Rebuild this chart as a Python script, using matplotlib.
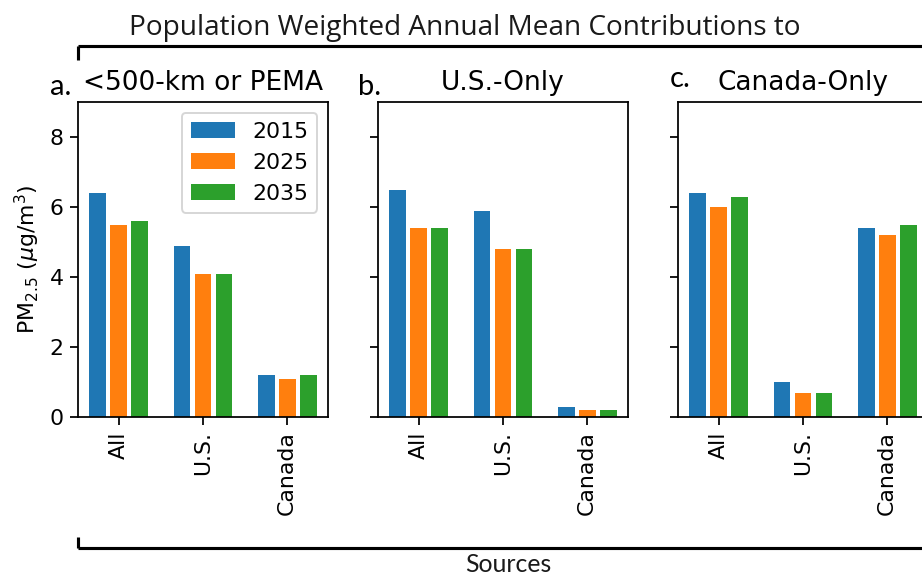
import numpy as np
import matplotlib
matplotlib.use("Agg")
import matplotlib.pyplot as plt
from matplotlib.lines import Line2D

# Data
sources = ["All", "U.S.", "Canada"]
years = ["2015", "2025", "2035"]
panel_titles = ["<500-km or PEMA", "U.S.-Only", "Canada-Only"]
panel_letters = ["a.", "b.", "c."]

pema_2015 = [6.4, 4.9, 1.2]
pema_2025 = [5.5, 4.1, 1.1]
pema_2035 = [5.6, 4.1, 1.2]

us_only_2015 = [6.5, 5.9, 0.3]
us_only_2025 = [5.4, 4.8, 0.2]
us_only_2035 = [5.4, 4.8, 0.2]

canada_only_2015 = [6.4, 1.0, 5.4]
canada_only_2025 = [6.0, 0.7, 5.2]
canada_only_2035 = [6.3, 0.7, 5.5]

panels = [
    [pema_2015, pema_2025, pema_2035],
    [us_only_2015, us_only_2025, us_only_2035],
    [canada_only_2015, canada_only_2025, canada_only_2035],
]
colors = ["#1f77b4", "#ff7f0e", "#2ca02c"]

S = 1.13  # overall scale of text and strokes
plt.rcParams.update({
    "font.family": ["DejaVu Sans"],
    "font.size": 10 * S,
    "axes.titlesize": 12 * S,
    "axes.linewidth": 0.8 * S,
    "xtick.major.size": 3.5 * S,
    "ytick.major.size": 3.5 * S,
    "xtick.major.width": 0.8 * S,
    "ytick.major.width": 0.8 * S,
})

W, H = 922, 575
DPI = 140
fig = plt.figure(figsize=(W / DPI, H / DPI), dpi=DPI)


def fx(x):
    return x / W


def fy(y):
    return 1 - y / H


ax_left = [78, 378, 678]
ax_w, ax_top, ax_bot = 250, 102, 417

x = np.arange(len(sources))
axes = []
for i, series in enumerate(panels):
    ax = fig.add_axes([fx(ax_left[i]), fy(ax_bot), ax_w / W, (ax_bot - ax_top) / H],
                      sharey=axes[0] if axes else None)
    for j, vals in enumerate(series):
        ax.bar(x + (j - 1) * 0.25, vals, width=0.2, color=colors[j], label=years[j])
    ax.set_xticks(x)
    ax.set_xticklabels(sources, rotation=90)
    ax.set_ylim(0, 9)
    ax.set_yticks([0, 2, 4, 6, 8])
    ax.set_title(panel_titles[i])
    if i > 0:
        ax.tick_params(labelleft=False)
    axes.append(ax)

axes[0].set_ylabel(r"PM$_{2.5}$ ($\mu$g/m$^3$)")
axes[0].legend(loc="upper right")

# Overall title and brackets
fig.text(fx(465), fy(35), "Population Weighted Annual Mean Contributions to",
         ha="center", va="baseline", fontsize=14.4, family="Open Sans", color="#1a1a1a")
for xs, ys in [((78, 922), (46, 46)), ((78, 78), (46, 60)),
               ((78, 922), (548, 548)), ((78, 78), (537, 548))]:
    fig.add_artist(Line2D([fx(xs[0]), fx(xs[1])], [fy(ys[0]), fy(ys[1])],
                          color="black", lw=1.6, solid_capstyle="butt"))
fig.text(fx(508), fy(572), "Sources", ha="center", va="baseline", fontsize=12.8,
         family="Lato", color="#1a1a1a")

# Panel letters
for lx, ly, letter in [(50, 95, "a."), (358, 95, "b."), (670, 87, "c.")]:
    fig.text(fx(lx), fy(ly), letter, ha="left", va="baseline", fontsize=15,
             family="Lato", color="black")

fig.savefig("out.png", dpi=DPI)
